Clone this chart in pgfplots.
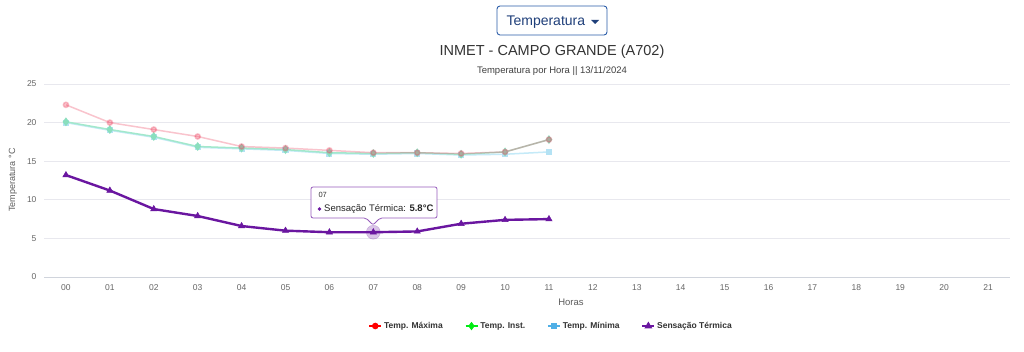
\documentclass[border=0pt]{standalone}
\usepackage{pgfplots}
\pgfplotsset{compat=1.18}
\usepackage{fontspec}
\setmainfont{Liberation Sans}
\definecolor{gridc}{HTML}{E8E8EE}
\definecolor{axc}{HTML}{D0D4DC}
\definecolor{tickc}{HTML}{666666}
\definecolor{maxc}{HTML}{EE3C5A}
\definecolor{instl}{HTML}{A2E8CC}
\definecolor{instm}{HTML}{8ADFBE}
\definecolor{minl}{HTML}{C4EAF8}
\definecolor{minm}{HTML}{B4E2F4}
\definecolor{senc}{HTML}{6A16A0}
\definecolor{ddc}{HTML}{2A5CA8}
\definecolor{ddt}{HTML}{1F3F7A}
\begin{document}
\begin{tikzpicture}[x=1pt,y=1pt]
\useasboundingbox (0,0) rectangle (1024,352);
\fill[white] (0,0) rectangle (1024,352);
% dropdown
\draw[ddc, line width=0.9pt, rounded corners=3pt] (497,317) rectangle (607,346);
\node[ddt, anchor=west, font=\fontsize{14}{16}\selectfont] at (503,330) {Temperatura};
\fill[ddt] (591,332) -- (599,332) -- (595,328) -- cycle;
% titles
\node[text=black!80, font=\fontsize{14.5}{17}\selectfont] at (552,300) {INMET - CAMPO GRANDE (A702)};
\node[text=black!75, font=\fontsize{9.5}{11}\selectfont] at (552,281) {Temperatura por Hora || 13/11/2024};
\begin{axis}[
  at={(44pt,75pt)}, anchor=south west,
  scale only axis, width=966pt, height=193pt,
  xmin=-0.5, xmax=21.5, ymin=0, ymax=25,
  xtick={0,...,21},
  xticklabels={00,01,02,03,04,05,06,07,08,09,10,11,12,13,14,15,16,17,18,19,20,21},
  ytick={0,5,...,25},
  /pgf/number format/assume math mode=true,
  tick label style={text=tickc, font=\fontsize{8.5}{10}\selectfont},
  xticklabel style={yshift=-4pt},
  yticklabel style={xshift=-4pt},
  major tick length=0pt,
  ymajorgrids, grid style={gridc, line width=0.6pt},
  axis line style={draw=none},
  axis x line*=bottom, axis y line*=left,
  clip=false,
  legend style={at={(0.525,-0.254)}, anchor=center, draw=none, fill=none,
    font=\bfseries\fontsize{8.5}{10}\selectfont, text=black!80,
    legend columns=4, /tikz/every even column/.append style={column sep=20pt}},
  legend image code/.code={\draw[mark repeat=2,mark phase=2] plot coordinates {(0pt,0pt)(6pt,0pt)(12pt,0pt)};},
]
\draw[axc, line width=0.8pt] (axis cs:-0.5,0) -- (axis cs:21.5,0);
\addlegendimage{color=red, line width=1.5pt, mark=*, mark size=2.5pt}
\addlegendentry{Temp. Máxima}
\addlegendimage{color=green!85!teal, line width=1.5pt, mark=diamond*, mark size=3pt}
\addlegendentry{Temp. Inst.}
\addlegendimage{color=cyan!80!blue!70, line width=1.5pt, mark=square*, mark size=2.3pt}
\addlegendentry{Temp. Mínima}
\addlegendimage{color=senc, line width=1.5pt, mark=triangle*, mark size=3pt}
\addlegendentry{Sensação Térmica}
% Temp. Minima
\addplot[forget plot, color=minl, line width=1.5pt, mark=square*, mark size=2.3pt, mark options={color=minm}] coordinates {
(0,20.0)(1,19.0)(2,18.1)(3,16.8)(4,16.6)(5,16.4)(6,16.0)(7,15.9)(8,16.0)(9,15.8)(10,15.9)(11,16.2)};
% Temp. Inst
\addplot[forget plot, color=instl, line width=1.5pt, mark=diamond*, mark size=3.2pt, mark options={color=instm}] coordinates {
(0,20.1)(1,19.1)(2,18.2)(3,16.9)(4,16.7)(5,16.5)(6,16.1)(7,16.0)(8,16.1)(9,15.9)(10,16.2)(11,17.8)};
% Temp. Maxima
\addplot[forget plot, color=maxc, opacity=0.3, line width=1.5pt, mark=*, mark size=2.6pt] coordinates {
(0,22.3)(1,20.0)(2,19.1)(3,18.2)(4,16.9)(5,16.7)(6,16.4)(7,16.1)(8,16.1)(9,16.0)(10,16.2)(11,17.8)};
% hover halo
\addplot[forget plot, only marks, mark=*, mark size=7pt, color=senc, opacity=0.25] coordinates {(7,5.8)};
% Sensacao Termica
\addplot[forget plot, color=senc, line width=2.4pt, mark=triangle*, mark size=3.6pt, mark options={line width=0.5pt}] coordinates {
(0,13.2)(1,11.2)(2,8.8)(3,7.9)(4,6.6)(5,6.0)(6,5.8)(7,5.8)(8,5.9)(9,6.9)(10,7.4)(11,7.5)};
\end{axis}
% axis labels
\node[text=tickc!90!black, rotate=90, font=\fontsize{9}{10}\selectfont] at (13,172) {Temperatura °C};
\node[text=tickc!90!black, font=\fontsize{9.5}{11}\selectfont] at (571,50) {Horas};
% tooltip
\draw[senc!70, line width=0.8pt, fill=white, fill opacity=0.95, rounded corners=2pt]
  (311,134) -- (366,134) -- (373,127) -- (380,134) -- (437,134) -- (437,165) -- (311,165) -- cycle;
\node[anchor=west, text=black!80, font=\fontsize{7.5}{9}\selectfont] at (315,157) {07};
\fill[senc] (319.5,143) circle (1.8pt);
\node[anchor=west, text=black!85, font=\fontsize{9.5}{11}\selectfont, inner sep=0pt] at (324,143) {Sensação Térmica: \textbf{5.8°C}};
\end{tikzpicture}
\end{document}
